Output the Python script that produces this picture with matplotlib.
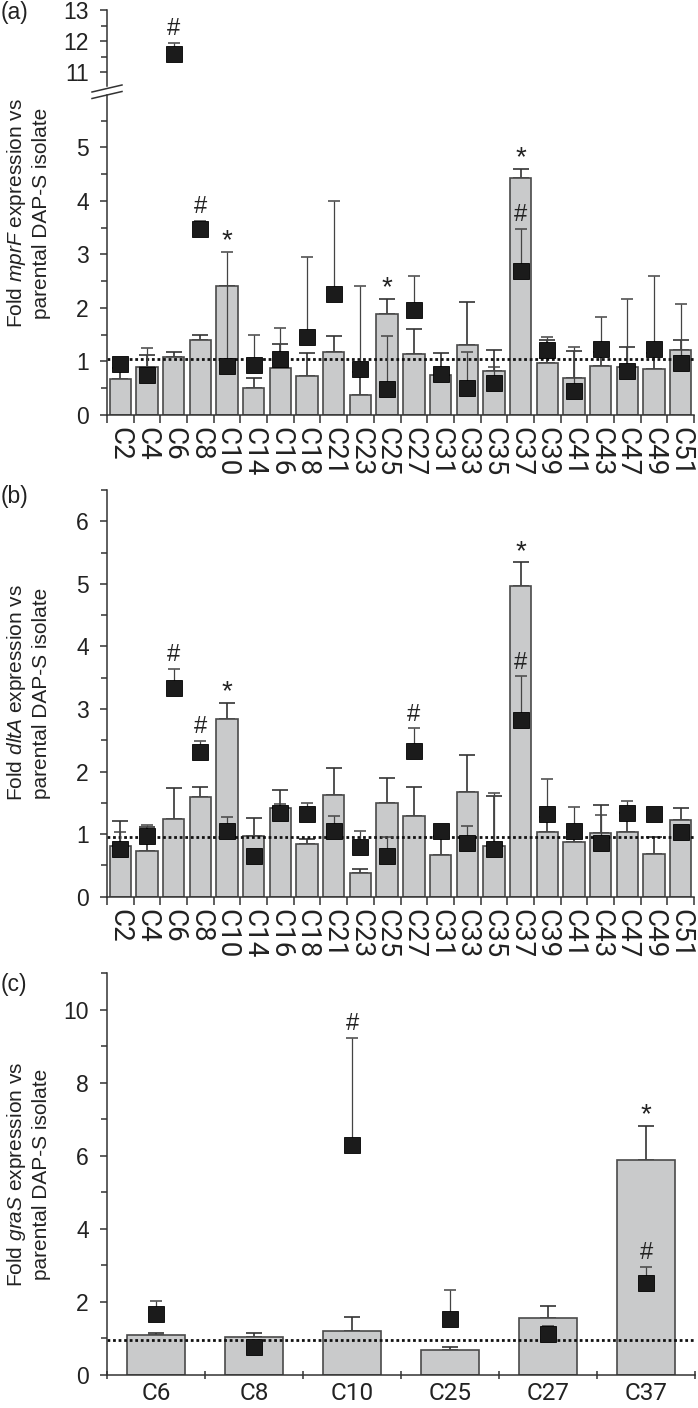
import numpy as np
import matplotlib
matplotlib.use("Agg")
import matplotlib.pyplot as plt
from matplotlib import font_manager
from matplotlib.lines import Line2D
from matplotlib.ticker import FixedLocator

# ── fonts ────────────────────────────────────────────────
_names = {f.name for f in font_manager.fontManager.ttflist}
NARROW = "Liberation Sans Narrow" if "Liberation Sans Narrow" in _names else "Roboto"
plt.rcParams["font.family"] = ["Liberation Sans", "DejaVu Sans"]
plt.rcParams["mathtext.fontset"] = "custom"
plt.rcParams["mathtext.it"] = "Liberation Sans:italic"
plt.rcParams["mathtext.rm"] = "Liberation Sans"

# ── data: panel (a) mprF ─────────────────────────────────
cats_ab = ["C2", "C4", "C6", "C8", "C10", "C14", "C16", "C18", "C21", "C23", "C25",
           "C27", "C31", "C33", "C35", "C37", "C39", "C41", "C43", "C47", "C49", "C51"]
bar_a = [0.67, 0.90, 1.08, 1.40, 2.42, 0.51, 0.88, 0.72, 1.18, 0.37, 1.88,
         1.14, 0.75, 1.30, 0.83, 4.43, 0.98, 0.70, 0.92, 0.89, 0.86, 1.22]
bar_a_err = [0.20, 0.23, 0.09, 0.10, 0.00, 0.19, 0.44, 0.43, 0.29, 0.43, 0.29,
             0.46, 0.41, 0.82, 0.38, 0.17, 0.42, 0.50, 0.25, 0.38, 0.30, 0.18]
sq_a = [0.95, 0.75, 11.57, 3.47, 0.92, 0.93, 1.05, 1.46, 2.27, 0.86, 0.49,
        1.96, 0.77, 0.50, 0.59, 2.70, 1.22, 0.45, 1.24, 0.83, 1.23, 0.98]
sq_a_err = [0.10, 0.50, 0.38, 0.16, 2.13, 0.57, 0.57, 1.49, 1.72, 1.55, 0.98,
            0.64, 0.10, 0.67, 0.30, 0.78, 0.23, 0.82, 0.60, 1.34, 1.37, 1.10]
ref_a = 1.04
sig_a = [("C6", "sq", "#"), ("C8", "sq", "#"), ("C10", "sq", "*"),
         ("C25", "bar", "*"), ("C37", "bar", "*"), ("C37", "sq", "#")]

# ── data: panel (b) dltA ─────────────────────────────────
bar_b = [0.81, 0.73, 1.24, 1.59, 2.84, 0.97, 1.42, 0.85, 1.62, 0.38, 1.49,
         1.29, 0.67, 1.67, 0.81, 4.96, 1.03, 0.88, 1.02, 1.04, 0.68, 1.23]
bar_b_err = [0.40, 0.38, 0.49, 0.16, 0.26, 0.28, 0.29, 0.08, 0.44, 0.06, 0.41,
             0.46, 0.30, 0.60, 0.80, 0.39, 0.25, 0.15, 0.45, 0.30, 0.28, 0.18]
sq_b = [0.76, 0.97, 3.33, 2.32, 1.05, 0.65, 1.33, 1.32, 1.05, 0.79, 0.65,
        2.33, 1.05, 0.86, 0.77, 2.83, 1.32, 1.05, 0.86, 1.33, 1.32, 1.04]
sq_b_err = [0.28, 0.17, 0.31, 0.17, 0.23, 0.00, 0.15, 0.17, 0.24, 0.26, 0.31,
            0.36, 0.00, 0.27, 0.89, 0.69, 0.56, 0.39, 0.44, 0.20, 0.00, 0.00]
ref_b = 0.96
sig_b = [("C6", "sq", "#"), ("C8", "sq", "#"), ("C10", "bar", "*"),
         ("C27", "sq", "#"), ("C37", "bar", "*"), ("C37", "sq", "#")]

# ── data: panel (c) graS ─────────────────────────────────
cats_c = ["C6", "C8", "C10", "C25", "C27", "C37"]
bar_c = [1.09, 1.03, 1.20, 0.69, 1.56, 5.87]
bar_c_err = [0.06, 0.11, 0.39, 0.06, 0.33, 0.95]
sq_c = [1.65, 0.77, 6.28, 1.53, 1.11, 2.52]
sq_c_err = [0.36, 0.00, 2.94, 0.80, 0.23, 0.43]
ref_c = 0.94
sig_c = [("C10", "sq", "#"), ("C37", "bar", "*"), ("C37", "sq", "#")]

BAR_FC = "#c9cacb"
EDGE = "#4a4a4a"
SQ_C = "#1b1b1b"
TICK_FS = 16.5


def style_y(ax, major, minor, length=5):
    for s in ["top", "right"]:
        ax.spines[s].set_visible(False)
    for s in ["left", "bottom"]:
        ax.spines[s].set_linewidth(1.1)
        ax.spines[s].set_color("#333333")
    ax.yaxis.set_major_locator(FixedLocator(major))
    ax.yaxis.set_minor_locator(FixedLocator(minor))
    ax.tick_params(axis="y", which="major", direction="out", length=length, width=1.1,
                   pad=8, labelsize=TICK_FS, color="#333333", labelcolor="#222222")
    ax.tick_params(axis="y", which="minor", direction="out", length=4, width=1.1,
                   color="#333333")


def draw_marks(ax, cats, bars, bar_err, sqs, sq_err, ref, width, msize, sigs):
    x = np.arange(len(cats))
    bars = np.array(bars)
    sqs = np.array(sqs)
    ax.bar(x, bars, width=width, color=BAR_FC, edgecolor=EDGE, linewidth=1.2, zorder=2)
    ax.errorbar(x, bars, yerr=[np.zeros(len(x)), bar_err], fmt="none", ecolor="#333333",
                elinewidth=1.2, capsize=5.5, capthick=1.2, zorder=1.9)
    ax.axhline(ref, color="#111111", lw=2.0, ls=(0, (1.0, 1.0)), zorder=2.5)
    ax.errorbar(x, sqs, yerr=[np.zeros(len(x)), sq_err], fmt="none", ecolor="#444444",
                elinewidth=0.9, capsize=4, capthick=1.1, zorder=3)
    ax.plot(x, sqs, ls="none", marker="s", ms=msize, color=SQ_C, mec="#000000",
            mew=0.6, zorder=4)
    for cat, kind, sym in sigs:
        i = cats.index(cat)
        top = bars[i] + bar_err[i] if kind == "bar" else sqs[i] + sq_err[i]
        off = 2 if sym == "#" else -2
        ax.annotate(sym, (x[i], top), xytext=(0, off), textcoords="offset points",
                    ha="center", va="bottom", fontsize=17 if sym == "#" else 20,
                    color="#222222", family=["Liberation Sans", "DejaVu Sans"], zorder=5)


def style_x(ax, cats, rotate, direction, fs, pad):
    n = len(cats)
    ax.set_xlim(-0.5, n - 0.5)
    ax.xaxis.set_major_locator(FixedLocator(np.arange(n)))
    ax.xaxis.set_minor_locator(FixedLocator(np.arange(n + 1) - 0.5))
    ax.set_xticklabels(cats, rotation=-90 if rotate else 0, fontsize=fs, family=NARROW,
                       color="#222222")
    ax.tick_params(axis="x", which="major", length=0, pad=pad)
    ax.tick_params(axis="x", which="minor", direction=direction, length=6, width=1.1,
                   color="#333333")


W, H = 698, 1408
fig = plt.figure(figsize=(W / 100, H / 100), dpi=100)


def rect(x0, y_top, x1, y_bot):
    return [x0 / W, 1 - y_bot / H, (x1 - x0) / W, (y_bot - y_top) / H]


# ── panel (a): broken axis ───────────────────────────────
ax_hi = fig.add_axes(rect(107, 10, 694, 86))
ax_lo = fig.add_axes(rect(107, 95, 694, 415))
for ax in (ax_hi, ax_lo):
    draw_marks(ax, cats_ab, bar_a, bar_a_err, sq_a, sq_a_err, ref_a, 0.8, 11.5, sig_a)
ax_hi.set_ylim(10.55, 13)
ax_lo.set_ylim(0, 5.98)
style_y(ax_hi, [11, 12, 13], [11.5, 12.5])
style_y(ax_lo, [0, 1, 2, 3, 4, 5], [0.5, 1.5, 2.5, 3.5, 4.5, 5.5])
ax_hi.spines["bottom"].set_visible(False)
ax_hi.set_xlim(-0.5, len(cats_ab) - 0.5)
ax_hi.set_xticks([])
style_x(ax_lo, cats_ab, True, "out", 20, 9)

# break marks
for yb in (88.5, 95.0):
    fig.add_artist(Line2D([92 / W, 122 / W], [1 - (yb + 3.5) / H, 1 - (yb - 3.5) / H],
                          color="#333333", lw=1.1))

# ── panel (b) ────────────────────────────────────────────
ax_b = fig.add_axes(rect(107, 490, 694, 896.7))
draw_marks(ax_b, cats_ab, bar_b, bar_b_err, sq_b, sq_b_err, ref_b, 0.8, 11.5, sig_b)
ax_b.set_ylim(0, 6.5)
style_y(ax_b, [0, 1, 2, 3, 4, 5, 6], [0.5, 1.5, 2.5, 3.5, 4.5, 5.5, 6.5])
style_x(ax_b, cats_ab, True, "out", 20, 9)

# ── panel (c) ────────────────────────────────────────────
ax_c = fig.add_axes(rect(107, 973.2, 695, 1374.7))
draw_marks(ax_c, cats_c, bar_c, bar_c_err, sq_c, sq_c_err, ref_c, 0.6, 11.0, sig_c)
ax_c.set_ylim(0, 11)
style_y(ax_c, [0, 2, 4, 6, 8, 10], [1, 3, 5, 7, 9, 11])
style_x(ax_c, cats_c, False, "inout", 17.5, 5)

# ── labels ───────────────────────────────────────────────
ylab = "Fold $\\mathit{%s}$ expression vs\nparental DAP-S isolate"
for gene, yc in (("mprF", 213), ("dltA", 693), ("graS", 1174)):
    fig.text(28 / W, 1 - yc / H, ylab % gene, rotation=90, ha="center", va="center",
             multialignment="center", fontsize=15, linespacing=1.3, color="#222222")
for lab, yc in (("(a)", 13), ("(b)", 497), ("(c)", 985)):
    fig.text(1 / W, 1 - yc / H, lab, ha="left", va="center", fontsize=16.5, color="#222222")

fig.savefig("out.png", dpi=100)
